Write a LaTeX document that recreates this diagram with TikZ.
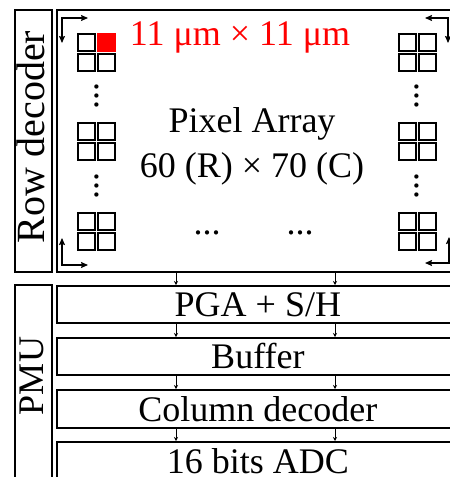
\documentclass[tikz,border=0pt]{standalone}
\usepackage{fontspec}
\setmainfont{Liberation Serif}
\usetikzlibrary{arrows.meta}

\tikzset{
	blk/.style={draw, rectangle, line width=1.8pt, anchor=north west, inner sep=0pt},
	txt/.style={font=\fontsize{36}{40}\selectfont, inner sep=0pt},
	cell/.style={draw, line width=2pt},
	corner/.style={line width=1.2pt, {Stealth[length=7pt, width=6pt, inset=1pt]}-{Stealth[length=7pt, width=6pt, inset=1pt]}},
	link/.style={line width=0.8pt, -{Stealth[length=4pt, width=4pt]}}
}

\begin{document}
\begin{tikzpicture}[x=1pt, y=-1pt]

			\useasboundingbox (0,0) rectangle (450,477);

			\def\cs{16.5} % side of one pixel cell
			\def\cp{20}   % pitch of the cells

			% Row decoder and pixel array
			\node[blk, minimum width=37pt, minimum height=262pt] (rowdec) at (14,9) {};
			\node[blk, minimum width=402pt, minimum height=262pt] (array) at (56,9) {};
			\node[txt, font=\fontsize{40}{44}\selectfont, rotate=90, anchor=base] (rowlbl) at (45,137) {Row decoder};

			% Labels inside the array
			\node[txt, red, anchor=base] (pitch) at (240,45) {11 μm × 11 μm};
			\node[txt, anchor=base] (arrname) at (252,132) {Pixel Array};
			\node[txt, anchor=base] (arrsize) at (252,177) {60 (R) × 70 (C)};

			% Pixel groups, 2 x 2 cells each
			\foreach \gx in {77,398}
			\foreach \gy in {33,122,212}
			\foreach \i in {0,1}
			\foreach \j in {0,1}
				\draw[cell] (\gx+1+\i*\cp, \gy+1+\j*\cp) rectangle ++(\cs,\cs);
			\draw[cell, red, fill=red] (77+1+\cp, 33+1) rectangle ++(\cs,\cs);

			% vertical dots between the groups
			\foreach \dx in {97,417}
			\foreach \dy in {96,186}
				\node[txt, rotate=90, anchor=base] (vd-\dx-\dy) at (\dx+1.7,\dy) {...};
			% horizontal dots
			\foreach \dx in {207,300}
				\node[txt, anchor=base] (hd-\dx) at (\dx,234) {...};

			% Scan direction arrows in the corners
			\coordinate (tlA) at (88,18);  \coordinate (tlB) at (62,43);
			\coordinate (trA) at (425,18); \coordinate (trB) at (448,43);
			\coordinate (blA) at (88,265); \coordinate (blB) at (62,238);
			\coordinate (brA) at (425,263); \coordinate (brB) at (449,237);
			\foreach \c in {tl,tr,bl,br}
				\draw[corner] (\c A) -| (\c B);

			% PMU and readout chain
			\node[blk, minimum width=37pt, minimum height=200pt] (pmu) at (14,284) {};
			\node[txt, rotate=90, anchor=base] (pmulbl) at (43,376) {PMU};
			\node[blk, txt, minimum width=402pt, minimum height=37pt] (pga) at (56,285) {PGA + S/H};
			\node[blk, txt, minimum width=402pt, minimum height=37pt] (buffer) at (56,337) {Buffer};
			\node[blk, txt, minimum width=402pt, minimum height=38pt] (coldec) at (56,389) {Column decoder};
			\node[blk, txt, minimum width=402pt, minimum height=38pt] (adc) at (56,441) {16 bits ADC};

			% links between the stages
			\foreach \a/\b in {array/pga, pga/buffer, buffer/coldec, coldec/adc}
			\foreach \ax in {176,335}
				\draw[link] (\a.south -| \ax,0) -- (\b.north -| \ax,0);

		\end{tikzpicture}
\end{document}
